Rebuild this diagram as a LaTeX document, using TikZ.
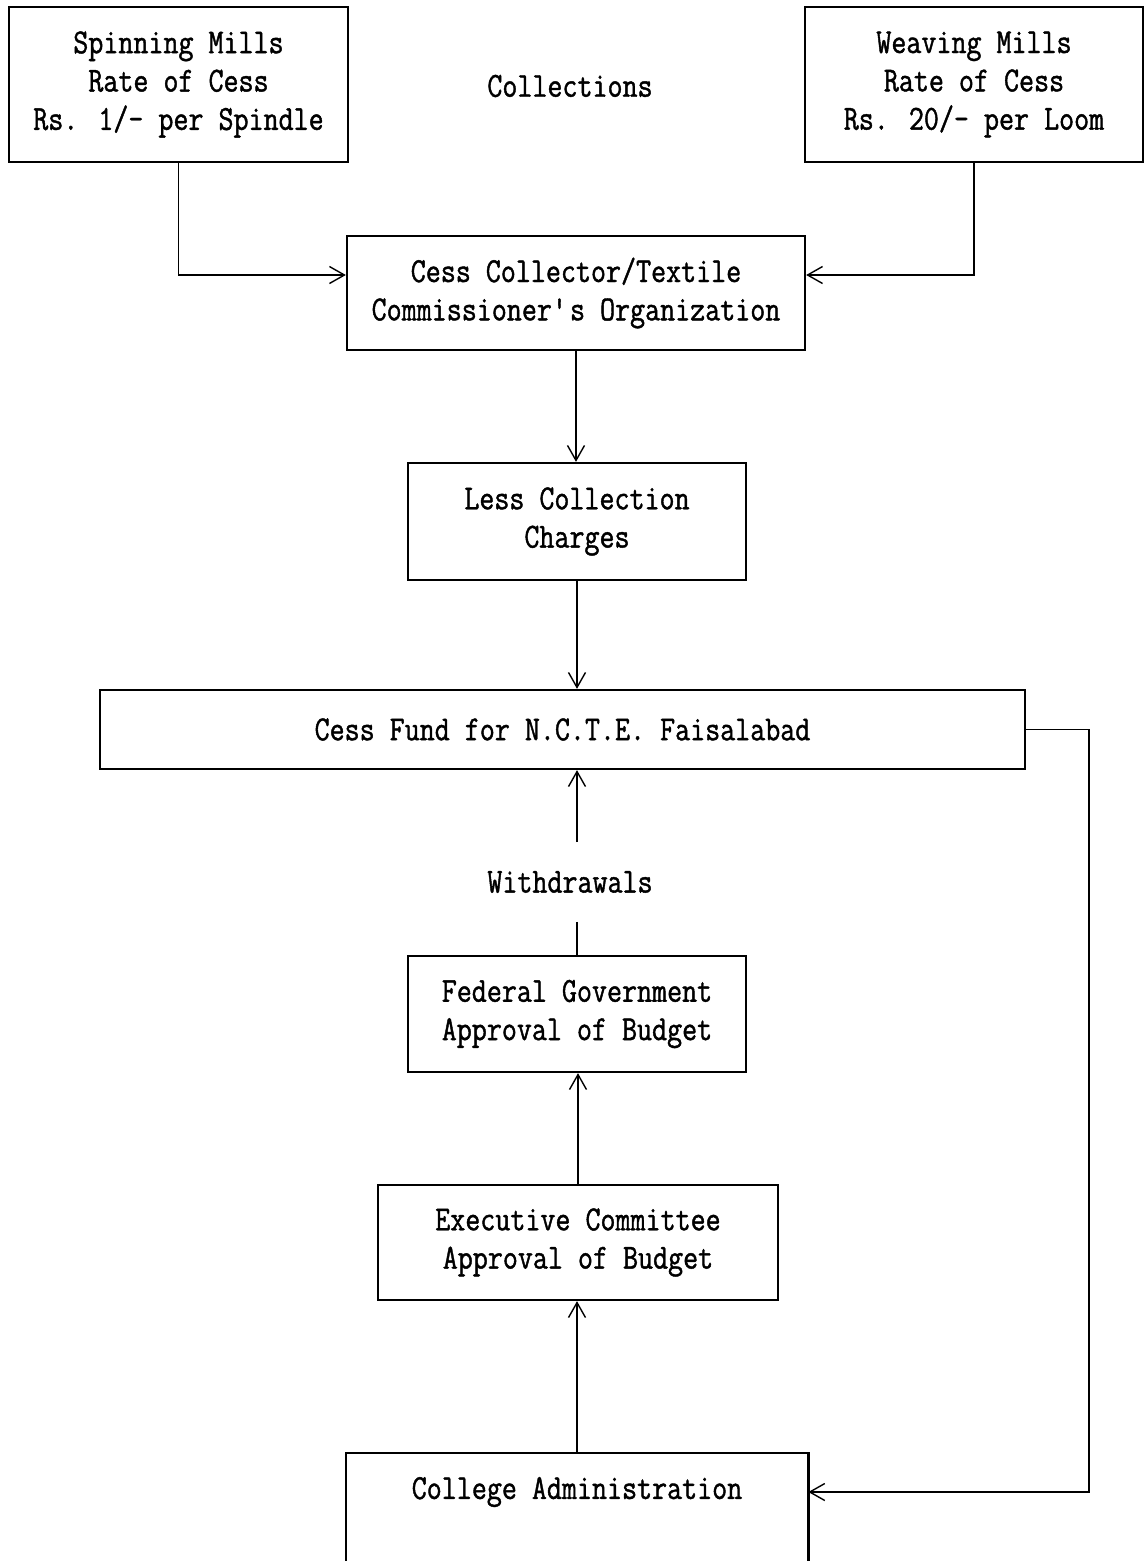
\documentclass[tikz,border=0pt]{standalone}
\usepackage{fontspec}
\setmainfont{Latin Modern Mono}[FakeStretch=0.83, FakeBold=1.2]
\usetikzlibrary{arrows.meta,calc}
\begin{document}
\begin{tikzpicture}[
  box/.style={draw, line width=1.3pt, align=center, inner sep=0pt},
  lbl/.style={align=center, inner sep=0pt},
  arr/.style={line width=0.8pt, -{Straight Barb[length=3mm,width=3.4mm]}},
  con/.style={line width=0.8pt},
  every node/.style={font=\fontsize{20pt}{21.8pt}\selectfont}
]
\useasboundingbox (0,0) rectangle (22.96,-31.22);
\node[box, minimum width=6.78cm, minimum height=3.1cm] (spin) at (3.57,-1.69)
  {Spinning Mills\\Rate of Cess\\Rs. 1/- per Spindle};
\node[lbl] (coll) at (11.4,-1.72) {Collections};
\node[box, minimum width=6.76cm, minimum height=3.1cm] (weave) at (19.48,-1.69)
  {Weaving Mills\\Rate of Cess\\Rs. 20/- per Loom};
\node[box, minimum width=9.16cm, minimum height=2.28cm] (cc) at (11.52,-5.86)
  {Cess Collector/Textile\\Commissioner\textquotesingle s Organization};
\node[box, minimum width=6.76cm, minimum height=2.34cm] (less) at (11.54,-10.43)
  {Less Collection\\Charges};
\node[box, minimum width=18.5cm, minimum height=1.58cm] (fund) at (11.25,-14.59)
  {Cess Fund for N.C.T.E. Faisalabad};
\node[lbl, minimum height=1.58cm] (withd) at (11.4,-17.64) {Withdrawals};
\node[box, minimum width=6.76cm, minimum height=2.32cm] (fed) at (11.54,-20.28)
  {Federal Government\\Approval of Budget};
\node[box, minimum width=8.0cm, minimum height=2.3cm] (exec) at (11.56,-24.85)
  {Executive Committee\\Approval of Budget};
\node[lbl, minimum width=9.24cm, minimum height=1.56cm] (college) at (11.54,-29.84)
  {College Administration};
\draw[line width=1.3pt] (college.north west |- 0,-31.22) -- (college.north west)
  -- (college.north east) -- (college.north east |- 0,-31.22);
\draw[arr] (spin.south) |- (cc.west |- 0,-5.5);
\draw[arr] (weave.south) |- (cc.east |- 0,-5.5);
\draw[arr] (cc.south) -- (cc.south |- less.north);
\draw[arr] (less.south) -- (less.south |- fund.north);
\draw[arr] (withd.north -| fed.north) -- (fed.north |- fund.south);
\draw[con] (withd.south -| fed.north) -- (fed.north);
\draw[arr] (exec.north) -- (exec.north |- fed.south);
\draw[arr] (college.north) -- (college.north |- exec.south);
\draw[arr] (fund.east) -- ++(1.26,0) |- (college.east);
\end{tikzpicture}
\end{document}
